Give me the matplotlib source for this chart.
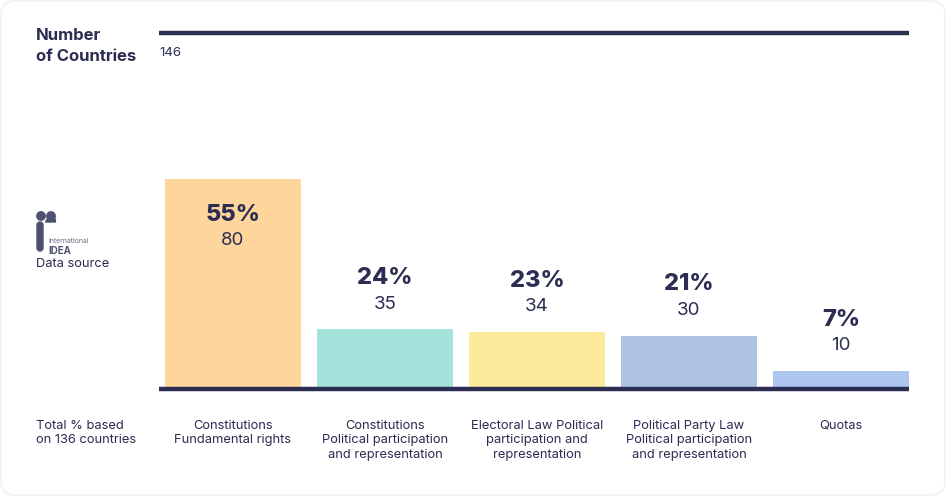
import matplotlib.pyplot as plt
from matplotlib.patches import Circle, FancyBboxPatch, Wedge

categories = [
    "Constitutions\nFundamental rights",
    "Constitutions\nPolitical participation\nand representation",
    "Electoral Law Political\nparticipation and\nrepresentation",
    "Political Party Law\nPolitical participation\nand representation",
    "Quotas",
]
counts = [80, 35, 34, 30, 10]
percents = [55, 24, 23, 21, 7]
# bar heights as drawn in the source chart (axis units, top line = 146)
bar_heights = [86, 24.6, 23.4, 21.8, 7.4]
axis_max = 146
colors = ["#fed59b", "#a3e3dc", "#fde99a", "#aec3e1", "#adc6f0"]

navy = "#2b2d52"
plt.rcParams['font.family'] = ['Inter', 'DejaVu Sans']

fig = plt.figure(figsize=(9.46, 4.96), dpi=100)
fig.patch.set_facecolor("white")

ax = fig.add_axes([159 / 946, 1 - 389 / 496, 750 / 946, 356 / 496])
x = list(range(len(categories)))
ax.bar(x, bar_heights, width=136 / 152, color=colors, zorder=1)
ax.axhline(axis_max, color=navy, lw=3.2, zorder=3, clip_on=False, solid_capstyle="butt")
ax.axhline(0, color=navy, lw=3.2, zorder=3, clip_on=False, solid_capstyle="butt")
ax.set_xlim(-74 / 152, 4 + 68 / 152)
ax.set_ylim(0, axis_max)
ax.axis("off")

for i, h in enumerate(bar_heights):
    if i == 0:
        off_p, off_c = -25.5, -44
    else:
        off_p, off_c = 37, 18
    ax.annotate(f"{percents[i]}%", (i, h), xytext=(0, off_p), textcoords="offset points",
                ha="center", va="center", fontsize=17, fontweight="heavy", color=navy)
    ax.annotate(str(counts[i]), (i, h), xytext=(0, off_c), textcoords="offset points",
                ha="center", va="center", fontsize=13.5, color=navy)
    ax.annotate(categories[i], (i, 0), xytext=(0, -22), textcoords="offset points",
                ha="center", va="top", fontsize=9.3, color=navy, linespacing=1.32)

# overlay in pixel coordinates for free text and logo
ov = fig.add_axes([0, 0, 1, 1], zorder=-1)
ov.set_xlim(0, 946)
ov.set_ylim(496, 0)
ov.axis("off")

ov.add_patch(FancyBboxPatch((1, 1), 944, 494, boxstyle="round,pad=0,rounding_size=14",
                            fc="white", ec="#f0f0f3", lw=1))

ov.text(36, 46, "Number\nof Countries", ha="left", va="center", fontsize=12,
        fontweight="bold", color=navy, linespacing=1.45)
ov.text(159, 53, str(axis_max), ha="left", va="center", fontsize=9.5, color=navy)
ov.text(36, 433, "Total % based\non 136 countries", ha="left", va="center",
        fontsize=9.3, color=navy, linespacing=1.32)

# logo
logo = "#4f5170"
ov.add_patch(Circle((41, 216), 4.2, color=logo))
ov.add_patch(Circle((51, 216), 4.2, color=logo))
ov.add_patch(FancyBboxPatch((37, 222), 6, 29, boxstyle="round,pad=0,rounding_size=3", color=logo))
ov.add_patch(Wedge((45.5, 222), 10, 300, 360, color=logo))
ov.text(48, 241, "International", ha="left", va="center", fontsize=5, color="#6a6b85")
ov.text(48, 250.5, "IDEA", ha="left", va="center", fontsize=7, fontweight="bold", color=logo)
ov.text(36, 264, "Data source", ha="left", va="center", fontsize=9.3, color=navy)

fig.savefig("out.png", dpi=100, facecolor="white")
